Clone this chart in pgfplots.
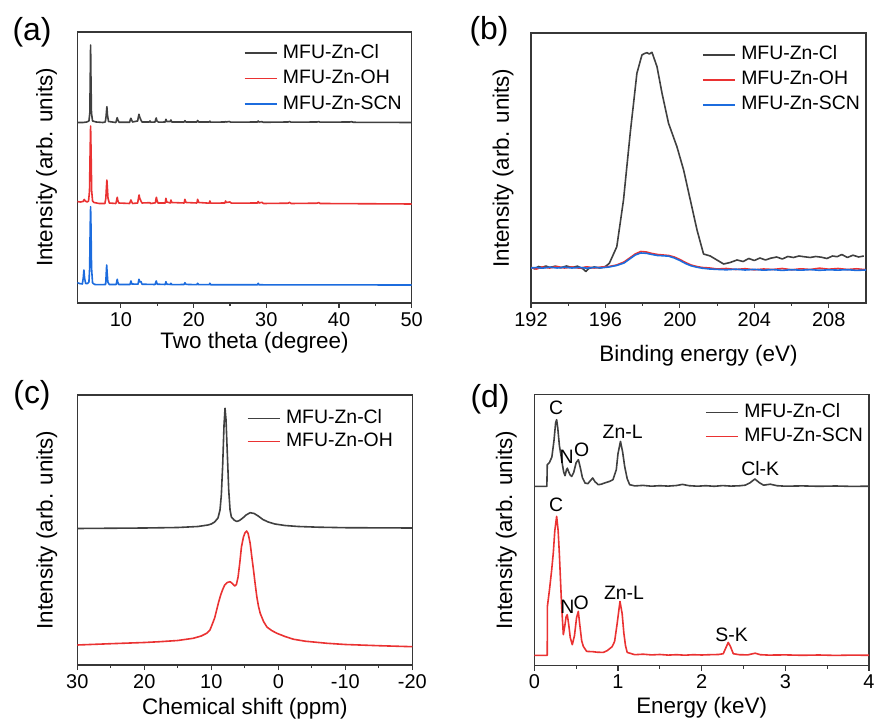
\documentclass[border=0pt]{standalone}
\usepackage{fontspec}
\setmainfont{Liberation Sans}
\usepackage{pgfplots}
\pgfplotsset{compat=1.18}

\definecolor{caxis}{RGB}{55,55,55}
\definecolor{cgray}{RGB}{64,64,64}
\definecolor{cred}{RGB}{234,50,50}
\definecolor{cblue}{RGB}{28,108,222}

\tikzset{lab/.style={font=\fontsize{19.5}{22}\selectfont, inner sep=0pt},
  tr/.style={line width=1.6bp, line join=round}}
\pgfplotsset{
  panel/.style={
    scale only axis,
    axis line style={caxis, line width=1.1bp},
    tick style={caxis, line width=1.1bp},
    tick align=outside,
    xtick pos=bottom,
    ytick=\empty,
    major tick length=5bp,
    minor tick length=3bp,
    minor x tick num=1,
    ymin=0,
    ticklabel style={font=\fontsize{20}{24}\selectfont},
    xticklabel style={inner sep=0pt, anchor=north, yshift=-4bp},
    label style={font=\fontsize{22.5}{26}\selectfont},
    xlabel style={inner sep=0pt, anchor=north},
    ylabel style={anchor=center},
    legend cell align=left,
    legend style={draw=none, fill=none, inner sep=0pt, outer sep=0pt,
      anchor=north east,
      font=\fontsize{19.5}{22}\selectfont,
      nodes={inner sep=0pt, text height=14bp, text depth=4bp},
      /tikz/every odd column/.append style={column sep=5.5bp}},
    legend image code/.code={\draw[#1, line width=1.6bp] (0bp,0bp) -- (32bp,0bp);},
  }
}

\begin{document}
\begin{tikzpicture}
\path[use as bounding box] (0,0) rectangle (874bp,720bp);

% (a) XRD
\begin{axis}[panel, at={(77.3bp,417bp)}, width=334.4bp, height=271bp,
  xmin=4, xmax=50, ymax=271,
  xtick={10,20,30,40,50}, xticklabels={10,20,30,40,50},
  xlabel={Two theta (degree)},
  xlabel style={at={(axis description cs:0.53,0)}, yshift=-29.5bp},
  ylabel={Intensity (arb. units)},
  ylabel style={at={(axis description cs:-0.0915,0.5)}},
  legend style={at={(0.970,0.955)}, row sep=7.5bp}]
\addplot[cgray, tr] coordinates {
(4,180.5) (4.8,180.5) (5.3,181) (5.6,182) (5.72,190) (5.78,225) (5.83,258) (5.88,225) (5.95,190) (6.1,182) (6.6,181) (7.5,180.5)
(7.85,181) (7.95,186) (8.07,196.3) (8.15,188) (8.3,181.5) (9.3,180.5) (9.42,183.5) (9.49,185.3) (9.58,183) (9.75,180.7)
(11.2,180.7) (11.3,183.5) (11.38,184.7) (11.47,183) (11.6,181) (12.3,182) (12.4,186) (12.48,188.7) (12.58,186) (12.72,183.5) (12.9,181)
(13.9,181) (14.0,182) (14.1,180.8) (14.7,181) (14.8,184) (14.86,185) (14.95,182) (15.2,180.8) (16.1,181) (16.19,183.7) (16.3,181.5)
(16.8,181.5) (16.88,183) (17.0,181) (18.7,181) (18.8,182.3) (18.95,181) (20.45,181) (20.55,182.5) (20.7,181) (22.15,181) (22.24,181.8)
(22.35,180.8) (24.3,181) (24.39,181.5) (24.5,181) (24.9,181.5) (25.1,180.8) (28.8,181) (28.88,182) (29.0,181) (29.4,181.3) (29.6,180.7)
(33,181) (33.2,181.5) (33.4,180.8) (37,181) (37.2,181.4) (37.4,180.8) (41.5,181) (41.7,181.3) (42,180.7) (50,180.5)
};
\addplot[cred, tr] coordinates {
(4,101.5) (4.4,101) (4.8,101.5) (4.95,103.5) (5.1,102) (5.35,101) (5.55,102) (5.68,112) (5.76,150) (5.83,177) (5.9,150) (5.98,112)
(6.1,102) (6.3,100.5) (7,99.5) (7.8,99.5) (7.93,105) (8.0,115) (8.07,123) (8.14,115) (8.22,105) (8.4,100) (9.3,99.5) (9.42,103)
(9.49,105.7) (9.56,103) (9.7,100) (11.2,99.5) (11.32,102) (11.38,103) (11.46,101.5) (11.6,99.5) (12.3,100) (12.42,105) (12.5,108)
(12.58,105) (12.75,102) (12.9,100) (14.0,100.3) (14.1,99.5) (14.75,100.2) (14.82,104) (14.88,105.7) (14.96,103) (15.1,100) (16.1,100)
(16.19,104.7) (16.3,101) (16.8,100) (16.88,103) (16.98,100.5) (18.7,100) (18.8,103.7) (18.95,100.5) (20.45,100) (20.55,103.7)
(20.7,100.5) (22.15,99.8) (22.24,102) (22.35,99.8) (24.3,100) (24.39,102) (24.5,100.5) (25,101) (25.2,99.8) (28.8,100) (28.88,101.5)
(29,100) (29.4,100.7) (29.6,99.5) (33,99.8) (33.2,100.6) (33.4,99.5) (37,99.8) (37.2,100.5) (37.4,99.5) (50,99)
};
\addplot[cblue, tr] coordinates {
(4,20.3) (4.3,19.5) (4.7,19) (4.82,25) (4.91,33) (5.0,25) (5.15,19.5) (5.4,19.5) (5.6,21) (5.7,35) (5.77,75) (5.83,96.3) (5.89,75)
(5.96,35) (6.1,20) (6.4,18.5) (7.0,18.3) (7.9,18.5) (7.97,28) (8.04,38) (8.11,30) (8.2,21) (8.4,18.5) (9.35,18.5) (9.45,22) (9.49,23.7)
(9.56,21) (9.7,18.5) (11.25,18.5) (11.38,22) (11.5,19) (12.35,18.8) (12.48,23.7) (12.6,21) (12.75,21.5) (12.9,18.8) (14.7,18.5)
(14.86,22) (15.0,18.8) (16.1,18.5) (16.19,21.3) (16.3,18.8) (16.8,18.5) (16.88,19.7) (17.0,18.3) (18.7,18.5) (18.8,20.3) (18.95,18.6)
(20.45,18.3) (20.55,19.7) (20.7,18.3) (22.15,18.3) (22.24,19.7) (22.35,18.2) (28.8,18.2) (28.88,19.7) (29,18.2) (50,18)
};
\legend{MFU-Zn-Cl, MFU-Zn-OH, MFU-Zn-SCN}
\end{axis}

% (b) XPS
\begin{axis}[panel, at={(531bp,417bp)}, width=335bp, height=270bp,
  xmin=192, xmax=210, ymax=270,
  xtick={192,196,200,204,208}, xticklabels={192,196,200,204,208},
  xlabel={Binding energy (eV)},
  xlabel style={at={(axis description cs:0.5,0)}, yshift=-42bp},
  ylabel={Intensity (arb. units)},
  ylabel style={at={(axis description cs:-0.0836,0.5)}},
  legend style={at={(0.982,0.952)}, row sep=7bp}]
\addplot[cgray, tr] coordinates {
(192,36) (192.2,34) (192.4,36.5) (192.6,35.5) (192.8,37) (193,35.5) (193.3,36.8) (193.6,35.2) (193.9,37) (194.2,35.5) (194.5,36.8)
(194.8,34) (194.95,31.5) (195.1,34.5) (195.4,36) (195.7,35) (196,36.5) (196.21,39.7) (196.61,56.3) (196.97,103) (197.33,169.7)
(197.69,229.7) (197.96,248) (198.1,249.5) (198.23,250.3) (198.36,249) (198.5,250.7) (198.77,236.3) (199.04,209.7) (199.39,179.7)
(199.84,156.3) (200.2,133) (200.56,103) (200.92,73) (201.27,49) (201.63,47) (201.99,43) (202.35,39) (202.7,40.5) (203.07,43)
(203.4,41.5) (203.7,44.5) (204,42.5) (204.3,45) (204.6,43) (204.86,44.7) (205.2,46) (205.5,44) (205.8,46.5) (206.1,45.5) (206.4,47)
(206.66,46.3) (207,45.5) (207.3,46.5) (207.6,45.8) (207.9,44.5) (208.2,47) (208.45,46.3) (208.7,48.5) (209,45.5) (209.3,47.8)
(209.6,46) (209.88,47)
};
\addplot[cred, tr] coordinates {
(192,35.5) (192.3,34) (192.6,36) (193,35) (193.4,36.5) (193.8,35) (194.2,36) (194.6,34.8) (195,36.2) (195.4,35) (195.8,36) (196.2,36.5)
(196.6,38) (197,41) (197.3,45) (197.6,49) (197.9,51.5) (198.2,51) (198.5,49.5) (198.8,48.5) (199.1,48) (199.4,47.5) (199.7,46)
(200,43.5) (200.3,40.5) (200.6,38) (200.9,36.5) (201.2,35.5) (201.6,35) (202,34) (202.5,34.5) (203,33.5) (203.5,34.3) (204,33.2)
(204.5,34) (205,33.5) (205.5,34.5) (206,33.2) (206.5,34.2) (207,33.5) (207.5,34.8) (208,33.8) (208.5,34.5) (209,33.5) (209.5,34.2) (210,33.3)
};
\addplot[cblue, tr] coordinates {
(192,35) (192.3,35.5) (192.6,34.8) (193,35.8) (193.4,35) (193.8,35.8) (194.2,35) (194.6,35.6) (195,34.8) (195.4,35.6) (195.8,35.2)
(196.2,36) (196.6,37.5) (197,40) (197.3,44) (197.6,48) (197.9,50) (198.2,49.7) (198.5,48.5) (198.8,47.5) (199.1,47.2) (199.4,46.8)
(199.7,45) (200,42.5) (200.3,39.5) (200.6,37.2) (200.9,35.8) (201.2,34.8) (201.6,34) (202,33.6) (202.5,33.2) (203,33.8) (203.5,33)
(204,33.6) (204.5,32.8) (205,33.4) (205.5,32.6) (206,33.3) (206.5,32.8) (207,33.4) (207.5,32.7) (208,33.2) (208.5,32.9) (209,33.3)
(209.5,32.6) (210,33)
};
\legend{MFU-Zn-Cl, MFU-Zn-OH, MFU-Zn-SCN}
\end{axis}

% (c) NMR
\begin{axis}[panel, at={(77.3bp,55bp)}, width=335bp, height=270bp,
  xmin=-20, xmax=30, ymax=270, x dir=reverse,
  xtick={-20,-10,0,10,20,30}, xticklabels={-20,-10,0,10,20,30},
  xlabel={Chemical shift (ppm)},
  xlabel style={at={(axis description cs:0.5,0)}, yshift=-33bp},
  ylabel={Intensity (arb. units)},
  ylabel style={at={(axis description cs:-0.0913,0.5)}},
  legend style={at={(0.942,0.947)}, row sep=5.3bp}]
\addplot[cgray, tr] coordinates {
(30,136.5) (20,137) (15,137.5) (12,138.5) (10.5,140) (10,141) (9.5,143) (9,147) (8.7,155) (8.5,170) (8.3,200) (8.1,240) (7.95,256.7)
(7.8,245) (7.6,210) (7.4,175) (7.2,155) (7.0,148) (6.6,145) (6.2,143.5) (5.8,144.5) (5.3,147) (4.8,150) (4.2,152.3) (3.6,151.5)
(3.0,149) (2.3,145.5) (1.5,143) (0.5,141) (-1,139.5) (-3,138.5) (-6,137.8) (-10,137.3) (-20,137)
};
\addplot[cred, tr] coordinates {
(30,20) (25,21.3) (20,22.5) (17.7,23.3) (15,24.5) (12.7,26.7) (11.5,29) (10.7,31.7) (10.2,35) (9.9,40) (9.5,47) (9.2,55) (8.9,63)
(8.6,70) (8.3,75.5) (8.0,80) (7.6,82.5) (7.2,83.3) (6.85,81.5) (6.5,79) (6.25,80.5) (6.0,88) (5.75,102) (5.5,118) (5.2,128)
(4.95,132.5) (4.72,134) (4.5,131.5) (4.2,121.7) (3.95,108) (3.7,95) (3.45,81) (3.2,68) (2.95,58.5) (2.7,51.7) (2.2,43.5) (1.7,38)
(1.0,34.5) (0.2,31.7) (-1,28.5) (-2.3,25.7) (-4,23.8) (-7.3,21.7) (-10,20.5) (-15,19.3) (-20,18.3)
};
\legend{MFU-Zn-Cl, MFU-Zn-OH}
\end{axis}

% (d) EDS
\begin{axis}[panel, at={(534.3bp,54.3bp)}, width=334.7bp, height=271bp,
  xmin=0, xmax=4, ymax=271,
  xtick={0,1,2,3,4}, xticklabels={0,1,2,3,4},
  xlabel={Energy (keV)},
  xlabel style={at={(axis description cs:0.5,0)}, yshift=-31bp},
  ylabel={Intensity (arb. units)},
  ylabel style={at={(axis description cs:-0.0837,0.5)}},
  legend style={at={(0.982,0.968)}, row sep=6bp}]
\addplot[cgray, tr] coordinates {
(0,179.3) (0.15,179.3) (0.155,201) (0.18,203) (0.21,208.7) (0.235,225) (0.255,243) (0.267,246) (0.28,238) (0.3,220) (0.327,206)
(0.35,194) (0.367,190) (0.385,196) (0.395,197.5) (0.41,194) (0.43,190.5) (0.447,189.3) (0.47,193) (0.5,203) (0.527,206) (0.55,198)
(0.575,188) (0.606,182.7) (0.64,182) (0.67,185) (0.698,187.7) (0.725,184) (0.765,181) (0.8,181.5) (0.85,183) (0.9,184.3) (0.94,186)
(0.98,196) (1.0,212) (1.03,224.3) (1.055,214) (1.08,199.3) (1.11,187) (1.14,181) (1.2,179.8) (1.3,180.3) (1.4,179.5) (1.5,180)
(1.6,179.6) (1.7,180.2) (1.77,181.3) (1.85,180) (1.95,179.5) (2.05,180) (2.15,179.4) (2.25,180.1) (2.35,179.6) (2.45,179.9)
(2.52,180.5) (2.58,183) (2.636,186.7) (2.69,183) (2.74,180.5) (2.82,181.5) (2.9,180) (3.0,179.5) (3.2,179.8) (3.4,179.4) (3.6,179.7)
(3.8,179.3) (4.0,179.5)
};
\addplot[cred, tr] coordinates {
(0,10.3) (0.155,10.3) (0.156,59) (0.18,75) (0.208,96) (0.227,112.7) (0.245,135) (0.267,149.3) (0.285,135) (0.299,112.7) (0.315,82)
(0.327,59) (0.347,31) (0.365,40) (0.38,49) (0.394,51) (0.41,42) (0.43,28) (0.454,21) (0.48,30) (0.505,48) (0.526,54.3) (0.545,40)
(0.566,25) (0.586,19.3) (0.626,14.3) (0.7,14) (0.75,13.5) (0.825,13.3) (0.87,15) (0.9,17) (0.93,19) (0.96,24.3) (0.99,42) (1.024,64.3)
(1.05,52) (1.07,32.7) (1.09,20) (1.11,13.3) (1.2,11) (1.3,11.5) (1.4,10.8) (1.5,11.2) (1.6,10.6) (1.7,11) (1.8,10.5) (1.9,11)
(2.0,10.7) (2.1,11) (2.2,11.2) (2.258,12) (2.29,18) (2.318,23.3) (2.345,19) (2.378,12) (2.45,11) (2.55,10.8) (2.64,12.5) (2.7,11)
(2.8,10.6) (3.0,10.8) (3.2,10.4) (3.4,10.7) (3.6,10.3) (3.8,10.6) (4.0,10.4)
};
\legend{MFU-Zn-Cl, MFU-Zn-SCN}
\node[lab] at (axis cs:0.26,257.7) {C};
\node[lab] at (axis cs:0.387,208.7) {N};
\node[lab] at (axis cs:0.566,216) {O};
\node[lab] at (axis cs:1.056,234.3) {Zn-L};
\node[lab] at (axis cs:2.70,196.7) {Cl-K};
\node[lab] at (axis cs:0.26,161) {C};
\node[lab] at (axis cs:0.394,59.3) {N};
\node[lab] at (axis cs:0.56,62.7) {O};
\node[lab] at (axis cs:1.072,72.7) {Zn-L};
\node[lab] at (axis cs:2.358,31) {S-K};
\end{axis}

\node[font=\fontsize{32}{36}\selectfont, inner sep=0pt] at (32bp,688bp) {(a)};
\node[font=\fontsize{32}{36}\selectfont, inner sep=0pt] at (489bp,688.5bp) {(b)};
\node[font=\fontsize{32}{36}\selectfont, inner sep=0pt] at (32bp,325bp) {(c)};
\node[font=\fontsize{32}{36}\selectfont, inner sep=0pt] at (490bp,321bp) {(d)};
\end{tikzpicture}
\end{document}
